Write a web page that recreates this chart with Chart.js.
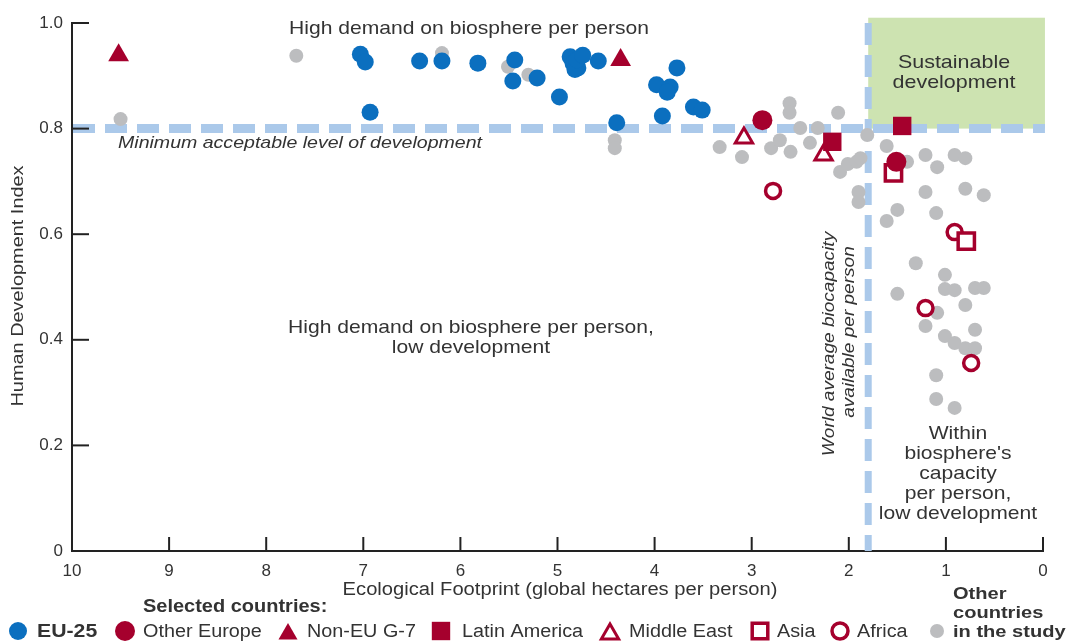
<!DOCTYPE html>
<html>
<head>
<meta charset="utf-8">
<script src="https://cdn.jsdelivr.net/npm/chart.js"></script>
<style>
  html, body { margin: 0; padding: 0; background: #fff; }
  #wrap { width: 1067px; height: 644px; }
</style>
</head>
<body>
<div id="wrap"><canvas id="myChart" width="1067" height="644"></canvas></div>
<script>
// values: [footprint (gha/person), HDI]
const eu25 = [[7.03,0.941],[6.98,0.926],[6.93,0.831],[6.42,0.928],[6.19,0.928],[5.82,0.924],
  [5.44,0.930],[5.46,0.890],[5.21,0.896],[4.98,0.860],[4.87,0.936],[4.84,0.924],[4.79,0.915],
  [4.82,0.912],[4.80,0.930],[4.74,0.939],[4.58,0.928],[4.39,0.811],[3.98,0.883],[3.84,0.879],
  [3.87,0.869],[3.92,0.824],[3.77,0.915],[3.60,0.841],[3.51,0.835]];
const otherEurope = [[2.89,0.816],[1.51,0.737]];
const nonEuG7 = [[9.52,0.939],[4.35,0.930]];
const latinAmerica = [[2.17,0.775],[1.45,0.805]];
const middleEast = [[3.08,0.782],[2.26,0.750]];
const asia = [[1.54,0.716],[0.79,0.587]];
const africa = [[2.78,0.682],[0.91,0.604],[1.21,0.460],[0.74,0.356]];
const otherCountries = [[9.50,0.818],[7.69,0.938],[6.19,0.943],[5.51,0.917],[5.30,0.902],
  [4.41,0.778],[4.41,0.763],[3.33,0.765],[3.10,0.746],[2.80,0.763],[2.71,0.778],[2.60,0.756],
  [2.61,0.848],[2.61,0.830],[2.11,0.830],[2.50,0.801],[2.40,0.773],[2.32,0.801],[2.09,0.718],
  [2.01,0.733],[1.92,0.737],[1.90,0.680],[1.90,0.661],[1.81,0.788],[1.88,0.744],[1.61,0.767],
  [1.40,0.737],[1.21,0.750],[1.09,0.727],[0.91,0.750],[0.80,0.744],[1.21,0.680],[0.80,0.686],
  [0.61,0.674],[1.50,0.646],[1.61,0.625],[1.10,0.640],[1.31,0.545],[1.01,0.523],[1.01,0.496],
  [0.91,0.494],[0.70,0.498],[0.61,0.498],[1.50,0.487],[1.09,0.451],[0.80,0.466],[1.21,0.426],
  [0.70,0.419],[1.01,0.407],[0.91,0.394],[0.80,0.384],[0.70,0.384],[1.10,0.333],[1.10,0.288],
  [0.91,0.271]];

const legendLabels = ['EU-25', 'Other Europe', 'Non-EU G-7', 'Latin America', 'Middle East', 'Asia', 'Africa'];
const otherLabel = ['Other', 'countries', 'in the study'];

const minHdi = 0.8;
const worldBiocapacity = 1.8;

const BLUE = '#0b6fbf', RED = '#a5002d', GREY = '#bcbdbf', DASH = '#abc9ea', GREEN = '#cde3b1', TXT = '#333';
const FONT = "'Liberation Sans', Arial, sans-serif";

const pts = arr => arr.map(p => ({x: p[0], y: p[1]}));

const styles = [
  {pointStyle: 'circle', pointRadius: 8.5, backgroundColor: BLUE, borderColor: BLUE, borderWidth: 0},
  {pointStyle: 'circle', pointRadius: 10, backgroundColor: RED, borderColor: RED, borderWidth: 0},
  {pointStyle: 'triangle', pointRadius: 12, backgroundColor: RED, borderColor: RED, borderWidth: 0},
  {pointStyle: 'rect', pointRadius: 13, backgroundColor: RED, borderColor: RED, borderWidth: 0},
  {pointStyle: 'triangle', pointRadius: 10, backgroundColor: '#fff', borderColor: RED, borderWidth: 3},
  {pointStyle: 'rect', pointRadius: 11.5, backgroundColor: '#fff', borderColor: RED, borderWidth: 3.5},
  {pointStyle: 'circle', pointRadius: 7.5, backgroundColor: '#fff', borderColor: RED, borderWidth: 3.5}
];
const series = [eu25, otherEurope, nonEuG7, latinAmerica, middleEast, asia, africa];

const datasets = series.map((s, i) => Object.assign({
  label: legendLabels[i], data: pts(s), order: 1
}, styles[i]));
datasets.push({label: 'Other countries', data: pts(otherCountries), order: 5,
  pointStyle: 'circle', pointRadius: 7, backgroundColor: GREY, borderWidth: 0});

// the source font is a bit wider than Liberation Sans, so stretch along the text direction
function text(ctx, str, x, y, size, opts = {}) {
  ctx.save();
  ctx.font = (opts.italic ? 'italic ' : '') + (opts.bold ? 'bold ' : '') + size + 'px ' + FONT;
  ctx.fillStyle = opts.color || TXT;
  ctx.textAlign = opts.align || 'center';
  ctx.textBaseline = 'middle';
  ctx.translate(x, y);
  if (opts.rotate) ctx.rotate(opts.rotate);
  ctx.scale(opts.sx || 1.1, 1);
  ctx.fillText(str, 0, 0);
  ctx.restore();
}

const backdrop = {
  id: 'backdrop',
  beforeDatasetsDraw(chart) {
    const {ctx, scales: {x, y}} = chart;
    const bx0 = x.getPixelForValue(worldBiocapacity), bx1 = x.getPixelForValue(-0.02);
    const by0 = y.getPixelForValue(1.01), by1 = y.getPixelForValue(minHdi);
    ctx.save();
    ctx.fillStyle = GREEN;
    ctx.fillRect(bx0, by0, bx1 - bx0, by1 - by0);
    ctx.strokeStyle = DASH;
    ctx.setLineDash([22, 10]);
    ctx.lineWidth = 9;
    ctx.beginPath();
    ctx.moveTo(x.left + 1, by1);
    ctx.lineTo(bx1, by1);
    ctx.stroke();
    ctx.lineWidth = 7;
    ctx.beginPath();
    ctx.moveTo(bx0, y.top);
    ctx.lineTo(bx0, y.bottom);
    ctx.stroke();
    ctx.restore();
  },
  afterDraw(chart) {
    const {ctx, scales: {x, y}} = chart;
    ctx.save();
    ctx.strokeStyle = '#222';
    ctx.lineWidth = 2;
    y.ticks.forEach((t, i) => {
      const py = y.getPixelForTick(i);
      ctx.beginPath(); ctx.moveTo(x.left, py); ctx.lineTo(x.left + 17, py); ctx.stroke();
    });
    x.ticks.forEach((t, i) => {
      const px = x.getPixelForTick(i);
      ctx.beginPath(); ctx.moveTo(px, y.bottom); ctx.lineTo(px, y.bottom - 14); ctx.stroke();
    });
    ctx.restore();

    // annotations
    text(ctx, 'High demand on biosphere per person', 469, 29, 19, {sx: 1.11});
    text(ctx, 'Minimum acceptable level of development', 118, 143, 17, {italic: true, align: 'left', sx: 1.15});
    text(ctx, 'High demand on biosphere per person,', 471, 328, 19, {sx: 1.11});
    text(ctx, 'low development', 471, 348, 19, {sx: 1.11});
    text(ctx, 'Sustainable', 954, 63, 19, {sx: 1.13});
    text(ctx, 'development', 954, 83, 19, {sx: 1.13});
    text(ctx, 'World average biocapacity', 829, 344, 17, {italic: true, rotate: -Math.PI / 2, sx: 1.12});
    text(ctx, 'available per person', 849, 332, 17, {italic: true, rotate: -Math.PI / 2, sx: 1.12});
    ["Within", "biosphere's", 'capacity', 'per person,', 'low development'].forEach((s, i) =>
      text(ctx, s, 958, 434 + i * 20, 19, {sx: 1.11}));

    // axis titles
    text(ctx, 'Ecological Footprint (global hectares per person)', 560, 590, 18, {sx: 1.12});
    text(ctx, 'Human Development Index', 18, 286, 17, {rotate: -Math.PI / 2, sx: 1.17});

    // legend
    text(ctx, 'Selected countries:', 143, 607, 18, {bold: true, align: 'left', sx: 1.11});
    const markX = [18, 125, 288, 441, 610, 760, 840];
    const textX = [37, 143, 307, 462, 629, 777, 857];
    const legSize = [9, 10, 11, 13, 10, 11, 8];
    legendLabels.forEach((lab, i) => {
      const st = styles[i];
      ctx.save();
      ctx.fillStyle = st.backgroundColor;
      ctx.strokeStyle = st.borderColor;
      ctx.lineWidth = st.borderWidth;
      const yOff = st.pointStyle === 'triangle' ? 3 : 0;
      Chart.helpers.drawPoint(ctx, {pointStyle: st.pointStyle, radius: legSize[i],
        borderWidth: st.borderWidth, rotation: 0}, markX[i], 631 + yOff);
      ctx.restore();
      text(ctx, lab, textX[i], 632, 18, {align: 'left', bold: i === 0, sx: i === 0 ? 1.18 : 1.1});
    });
    ctx.save();
    ctx.fillStyle = GREY;
    ctx.beginPath(); ctx.arc(937, 631, 7, 0, Math.PI * 2); ctx.fill();
    ctx.restore();
    otherLabel.forEach((s, i) => text(ctx, s, 953, 594 + i * 19, 17, {bold: true, align: 'left', sx: 1.18}));
  }
};

new Chart(document.getElementById('myChart'), {
  type: 'scatter',
  data: {datasets},
  options: {
    responsive: false,
    animation: false,
    devicePixelRatio: 1,
    events: [],
    layout: {padding: {left: 0, top: 23, right: 24, bottom: 0}},
    plugins: {legend: {display: false}, tooltip: {enabled: false}},
    scales: {
      x: {
        type: 'linear', reverse: true, min: 0, max: 10,
        afterFit: s => { s.height = 93; },
        grid: {display: false},
        border: {display: true, color: '#222', width: 2},
        ticks: {stepSize: 1, padding: 2, color: TXT, font: {family: FONT, size: 17}, maxRotation: 0}
      },
      y: {
        type: 'linear', min: 0, max: 1,
        afterFit: s => { s.width = 72; },
        grid: {display: false},
        border: {display: true, color: '#222', width: 2},
        ticks: {stepSize: 0.2, padding: 1, color: TXT, font: {family: FONT, size: 17},
          callback: v => (v === 0 ? '0' : v.toFixed(1))}
      }
    }
  },
  plugins: [backdrop]
});
</script>
</body>
</html>
